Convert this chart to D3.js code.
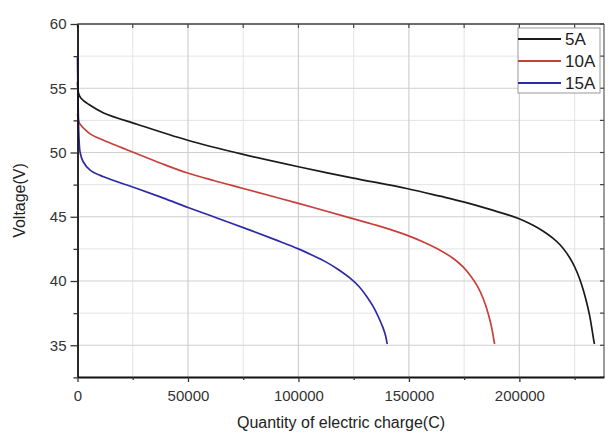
<!DOCTYPE html>
<html><head><meta charset="utf-8">
<script src="https://cdn.jsdelivr.net/npm/d3@7"></script>
<style>
html,body{margin:0;padding:0;background:#fff;}
svg{display:block;font-family:"Liberation Sans",Arial,sans-serif;}
</style></head>
<body>
<svg id="chart" width="610" height="436"></svg>
<script>
// ---- data ----
const seriesNames = ["5A", "10A", "15A"];
const seriesColors = ["#1a1a1a", "#c8403a", "#2b2ba6"];
const charge5A = [0,500,1700,5000,11800,26900,49500,75000,100000,124200,149000,164100,174700,186700,199600,206000,211000,215000,218500,221500,224000,226300,228300,230200,231800,233000,233800,234000];
const volt5A   = [55.5,54.6,54.2,53.75,53.08,52.2,50.97,49.85,48.89,48.03,47.2,46.6,46.16,45.57,44.87,44.35,43.85,43.35,42.8,42.15,41.45,40.6,39.65,38.5,37.3,36.1,35.25,35.1];
const charge10A = [0,600,1200,3000,5700,11800,20000,26900,38000,49500,62000,75000,100000,124200,137000,149000,157000,164100,170100,174500,177700,181000,183700,186000,187600,188600,188800];
const volt10A   = [53.0,52.4,52.2,51.85,51.45,50.95,50.38,49.9,49.14,48.42,47.8,47.2,46.04,44.87,44.25,43.57,43.0,42.4,41.75,41.1,40.45,39.6,38.6,37.4,36.25,35.26,35.1];
const charge15A = [0,300,700,1200,2500,5700,11800,26900,38900,50000,64000,78100,90000,100000,106000,112800,118000,123400,127500,130900,133800,136200,138300,139500,140000,140200];
const volt15A   = [57.4,53.5,51.0,50.0,49.3,48.63,48.11,47.2,46.45,45.72,44.85,43.96,43.18,42.5,42.03,41.45,40.9,40.22,39.55,38.8,38.02,37.2,36.35,35.7,35.26,35.1];
const xTickValues = [0,50000,100000,150000,200000];
const xMinorValues = [25000,75000,125000,175000,225000];
const yTickValues = [35,40,45,50,55,60];
const yMinorValues = [32.5,37.5,42.5,47.5,52.5,57.5];
const xTitle = "Quantity of electric charge(C)";
const yTitle = "Voltage(V)";

const series = [
  {name: seriesNames[0], color: seriesColors[0], pts: charge5A.map((c,i)=>[c, volt5A[i]])},
  {name: seriesNames[1], color: seriesColors[1], pts: charge10A.map((c,i)=>[c, volt10A[i]])},
  {name: seriesNames[2], color: seriesColors[2], pts: charge15A.map((c,i)=>[c, volt15A[i]])}
];

// ---- layout ----
const L = 77.5, T = 24, R = 604, B = 377;
const svg = d3.select("#chart");
const x = d3.scaleLinear().domain([0, 238300]).range([L, R]);
const y = d3.scaleLinear().domain([32.53, 60]).range([B, T]);

// grid
const g = svg.append("g");
g.selectAll(".vmin").data(xMinorValues).join("line")
  .attr("x1", d=>x(d)).attr("x2", d=>x(d)).attr("y1", T).attr("y2", B)
  .attr("stroke", "#e4e4e4").attr("stroke-width", 1);
g.selectAll(".hmin").data(yMinorValues).join("line")
  .attr("x1", L).attr("x2", R).attr("y1", d=>y(d)).attr("y2", d=>y(d))
  .attr("stroke", "#e4e4e4").attr("stroke-width", 1);
g.selectAll(".vmaj").data(xTickValues.slice(1)).join("line")
  .attr("x1", d=>x(d)).attr("x2", d=>x(d)).attr("y1", T).attr("y2", B)
  .attr("stroke", "#cfcfcf").attr("stroke-width", 1.2);
g.selectAll(".hmaj").data(yTickValues).join("line")
  .attr("x1", L).attr("x2", R).attr("y1", d=>y(d)).attr("y2", d=>y(d))
  .attr("stroke", "#cfcfcf").attr("stroke-width", 1.2);

// curves
const line = d3.line().x(d=>x(d[0])).y(d=>y(d[1])).curve(d3.curveCatmullRom.alpha(0.5));
svg.append("g").selectAll("path").data(series).join("path")
  .attr("d", d=>line(d.pts)).attr("fill", "none")
  .attr("stroke", d=>d.color).attr("stroke-width", 1.7);

// frame top/right with inward ticks
const tickColor = "#333";
svg.append("line").attr("x1", L).attr("x2", R).attr("y1", T).attr("y2", T).attr("stroke", "#444").attr("stroke-width", 1.3);
svg.append("line").attr("x1", R).attr("x2", R).attr("y1", T).attr("y2", B).attr("stroke", "#666").attr("stroke-width", 1.3);
const xAll = xTickValues.concat(xMinorValues);
const yAll = yTickValues.concat(yMinorValues);
svg.append("g").selectAll("line").data(xAll).join("line")
  .attr("x1", d=>x(d)).attr("x2", d=>x(d)).attr("y1", T).attr("y2", T+4).attr("stroke", "#444").attr("stroke-width", 1.2);
svg.append("g").selectAll("line").data(yAll).join("line")
  .attr("x1", R).attr("x2", R-4).attr("y1", d=>y(d)).attr("y2", d=>y(d)).attr("stroke", "#444").attr("stroke-width", 1.2);

// axes
svg.append("g").attr("transform", `translate(0,${B})`)
  .call(d3.axisBottom(x).tickValues(xTickValues).tickFormat(d3.format("d")).tickSize(5).tickPadding(8).tickSizeOuter(0));
svg.append("g").attr("transform", `translate(0,${B})`)
  .call(d3.axisBottom(x).tickValues(xMinorValues).tickFormat("").tickSize(3).tickSizeOuter(0))
  .call(s=>s.select(".domain").remove());
svg.append("g").attr("transform", `translate(${L},0)`)
  .call(d3.axisLeft(y).tickValues(yTickValues).tickSize(7).tickPadding(4).tickSizeOuter(0));
svg.append("g").attr("transform", `translate(${L},0)`)
  .call(d3.axisLeft(y).tickValues(yMinorValues).tickFormat("").tickSize(4).tickSizeOuter(0))
  .call(s=>s.select(".domain").remove());
svg.selectAll(".domain").attr("stroke", "#111").attr("stroke-width", 1.8);
svg.selectAll(".tick line").attr("stroke", tickColor).attr("stroke-width", 1.3);
svg.selectAll(".tick text").attr("fill", "#333").attr("font-size", 15).attr("font-family", "Liberation Sans, Arial, sans-serif");

// titles
svg.append("text").attr("x", 341).attr("y", 428).attr("text-anchor", "middle")
  .attr("font-size", 16).attr("fill", "#222").text(xTitle);
svg.append("text").attr("transform", `translate(25,${(T+B)/2}) rotate(-90)`).attr("text-anchor", "middle")
  .attr("font-size", 16).attr("fill", "#222").text(yTitle);

// legend
const lg = svg.append("g");
lg.append("rect").attr("x", 518).attr("y", 28).attr("width", 82).attr("height", 65)
  .attr("fill", "#fff").attr("stroke", "#999").attr("stroke-width", 1);
const items = lg.selectAll("g.item").data(series).join("g").attr("class", "item")
  .attr("transform", (d,i)=>`translate(518,${39 + i*22})`);
items.append("line").attr("x1", 0).attr("x2", 43).attr("y1", 0).attr("y2", 0)
  .attr("stroke", d=>d.color).attr("stroke-width", 1.8);
items.append("text").attr("x", 47).attr("y", 6).attr("font-size", 17).attr("fill", "#222").text(d=>d.name);
</script>
</body></html>
